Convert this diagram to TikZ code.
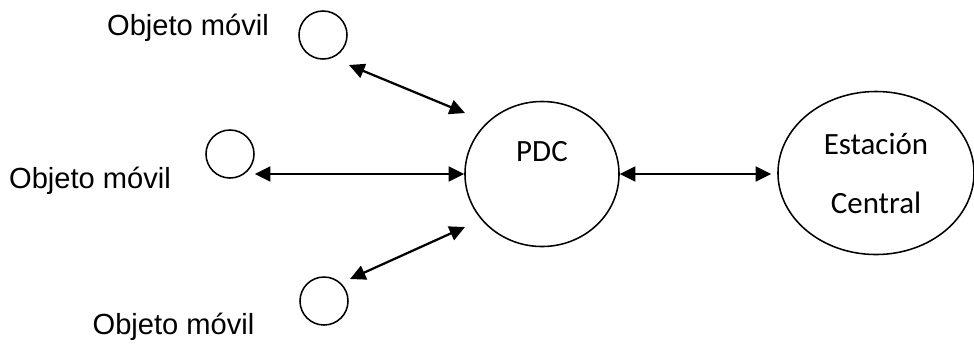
\documentclass[tikz,border=0pt]{standalone}
\usepackage{fontspec}
\setmainfont{Carlito}
\newfontfamily\arialfont{Liberation Sans}
\usetikzlibrary{arrows.meta,shapes.geometric}
\newlength{\px}
\setlength{\px}{0.025cm}

\begin{document}
\begin{tikzpicture}[x=\px,y=-\px,
    movil/.style={draw,circle,line width=1.1pt,minimum size=1.2cm,inner sep=0pt},
    centro/.style={draw,ellipse,line width=1.1pt,inner sep=0pt,align=center,
      font=\fontsize{22}{28}\selectfont},
    etiqueta/.style={font=\arialfont\fontsize{20.7}{25}\selectfont,anchor=base,inner sep=0pt},
    enlace/.style={line width=1.6pt,{Triangle[length=11pt,width=10.5pt]}-{Triangle[length=11pt,width=10.5pt]}}]
        %fix the page
        \useasboundingbox (0,0) rectangle (974,345);

        %mobile objects and their names
        \foreach \name/\loc/\txt in {m1/{323,35}/{188,35},m2/{230,154}/{90,188},m3/{324,301}/{173.5,334}}{
          \node[movil] (\name) at (\loc) {};
          \node[etiqueta] (t\name) at (\txt) {Objeto móvil};
        }

        %pdc and central station
        \node[centro,minimum width=3.85cm,minimum height=3.625cm,
          label={[yshift=0.56cm,font=\fontsize{22}{28}\selectfont]center:PDC}] (pdc) at (542,174) {};
        \node[centro,minimum width=4.9cm,minimum height=4.075cm] (sc) at (876,173) {Estación\\[14pt]Central};

        %free ends of the slanted links
        \coordinate (p1) at (349,65);
        \coordinate (q1) at (465,113);
        \coordinate (p3) at (350,279);
        \coordinate (q3) at (465,227);

        %links
        \foreach \a/\b in {p1/q1,p3/q3}{
          \draw[enlace] (\a) -- (\b);
        }
        \draw[enlace] (pdc.west -| m2.east) -- (pdc.west);
        \draw[enlace,shorten >=4.3pt] (pdc.east) -- (pdc.east -| sc.west);
\end{tikzpicture}
\end{document}
